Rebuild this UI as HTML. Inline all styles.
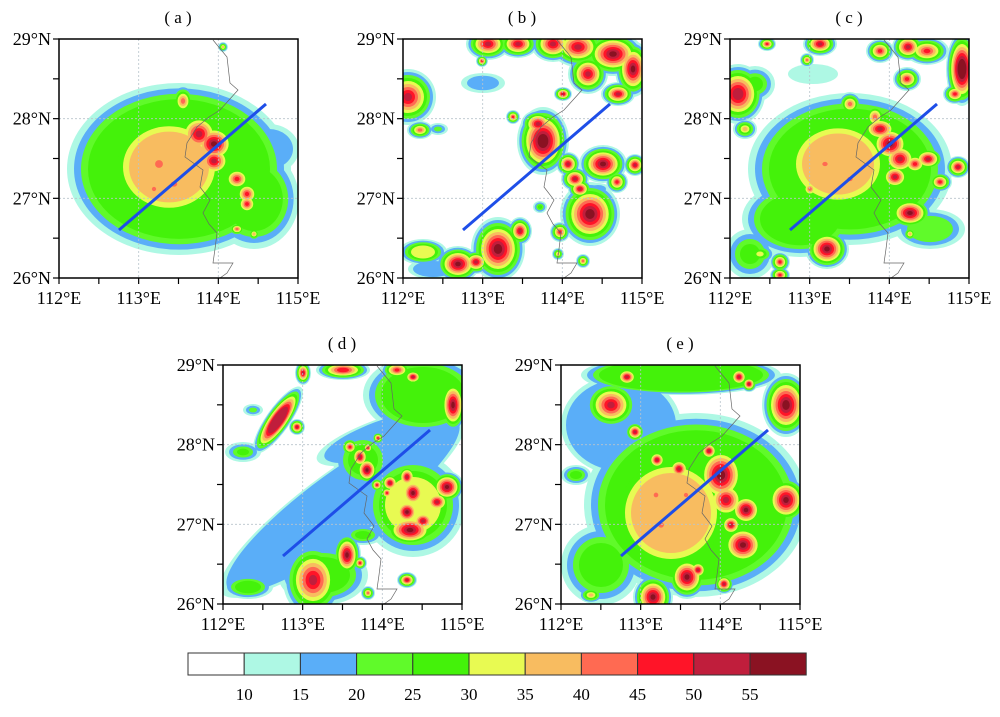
<!DOCTYPE html>
<html><head><meta charset="utf-8">
<style>
html,body{margin:0;padding:0;background:#fff;}
svg text{font-family:"Liberation Serif",serif;}
</style></head>
<body>
<svg id="s" width="1000" height="712" xmlns="http://www.w3.org/2000/svg">
<defs>
<clipPath id="cp"><rect x="0" y="0" width="239" height="239"/></clipPath>
</defs>
<g id="root"></g>
</svg>
<script>
var NS="http://www.w3.org/2000/svg";
var C=["#ffffff","#aef8e4","#5aaef8","#60fa2a","#44f20a","#e8fa52","#f8bc60","#ff6a52","#ff1428","#c01e3c","#8a1222"];
function el(t,a,p){var e=document.createElementNS(NS,t);for(var k in a)e.setAttribute(k,a[k]);if(p)p.appendChild(e);return e;}
var root=document.getElementById("root");
var boundary=[[154,1],[168,18],[171,44],[179,51],[161,71],[150,78],[138,88],[128,104],[126,118],[144,131],[141,148],[151,161],[144,174],[150,185],[158,194],[156,210],[154,224],[174,224],[168,234],[161,239]];
function panel(x0,y0,title,blobs){
  var g=el("g",{transform:"translate("+x0+","+y0+")"},root);
  el("text",{x:119,y:-16,"text-anchor":"middle","font-size":"17"},g).textContent="( "+title+" )";
  var inner=el("g",{"clip-path":"url(#cp)"},g);
  el("rect",{x:0,y:0,width:239,height:239,fill:"#fff"},inner);
  for(var l=1;l<=10;l++){
    blobs.forEach(function(b){
      if(b[4]<l)return;
      var R=Math.max(b[2],b[3]);
      var st=Math.min(b[5]||4, R/(b[4]+0.3));
      var f=(R-(l-1)*st)/R;
      if(f<=0)return;
      var a={cx:b[0],cy:b[1],rx:b[2]*f,ry:b[3]*f,fill:C[l]};
      if(b[6])a.transform="rotate("+b[6]+" "+b[0]+" "+b[1]+")";
      el("ellipse",a,inner);
    });
  }
  [79.7,159.3].forEach(function(v){
    el("line",{x1:v,y1:0,x2:v,y2:239,stroke:"#b8c4cc","stroke-width":0.8,"stroke-dasharray":"2,2"},inner);
    el("line",{x1:0,y1:v,x2:239,y2:v,stroke:"#b8c4cc","stroke-width":0.8,"stroke-dasharray":"2,2"},inner);
  });
  el("polyline",{points:boundary.map(function(p){return p.join(",");}).join(" "),fill:"none",stroke:"#666","stroke-width":0.7},inner);
  el("line",{x1:60,y1:191,x2:207,y2:65,stroke:"#1e4ee8","stroke-width":3},inner);
  el("rect",{x:0,y:0,width:239,height:239,fill:"none",stroke:"#000","stroke-width":1.5},g);
  for(var i=0;i<=6;i++){var v=i*239/6;
    el("line",{x1:-6,y1:v,x2:0,y2:v,stroke:"#000","stroke-width":1.2},g);
    el("line",{x1:v,y1:239,x2:v,y2:245,stroke:"#000","stroke-width":1.2},g);}
  ["29","28","27","26"].forEach(function(t,i){
    el("text",{x:-8,y:i*79.7+6,"text-anchor":"end","font-size":"18"},g).textContent=t+"°N";});
  ["112","113","114","115"].forEach(function(t,i){
    el("text",{x:i*79.7,y:265,"text-anchor":"middle","font-size":"18"},g).textContent=t+"°E";});
}
panel(59,39,"a",[
 [120,130,112,86,4,7],[195,160,45,50,4,6],[40,120,25,40,2,6],[210,110,30,25,2,6],
 [110,128,70,62,6,6],[100,125,22,22,7,4],[115,145,18,15,7,4],[95,150,12,12,7,3],
 [140,95,24,24,9,3],[155,105,24,22,10,3],[155,122,20,18,9,3],[178,140,16,14,8,3],
 [188,155,14,14,8,3],[188,165,12,12,8,3],[124,62,12,16,7,3],[178,190,9,7,7,2],[195,195,7,7,6,2],[164,8,5,5,6,2]
]);
panel(403,39,"b",[
 [5,58,28,28,9,3],[17,91,13,9,7,3],[35,90,10,6,3,3],[80,44,22,10,2,6],
 [85,5,22,16,9,3],[115,5,20,14,9,3],[79,22,6,6,8,2],
 [150,5,22,18,9,3],[175,8,27,20,9,3],[210,15,30,22,10,3],[230,30,18,28,10,3],[185,35,20,20,9,3],[160,55,9,7,9,2],[215,55,17,12,9,3],
 [110,78,7,7,8,2],[140,102,26,34,10,3],[135,85,17,14,9,3],
 [165,125,12,12,9,3],[172,140,14,12,9,3],[200,125,24,19,10,3],[232,126,11,11,9,2],[214,143,11,11,8,2],
 [187,175,30,32,10,3],[177,150,12,10,9,2],[195,150,12,6,2,4],
 [95,210,27,32,10,3],[117,192,12,14,9,3],[55,225,22,18,10,3],[73,223,14,12,9,3],[20,213,24,13,5,3],[30,230,25,10,2,5],
 [157,193,10,10,8,2],[137,168,7,6,4,2],[180,222,7,7,7,2],[155,215,6,6,6,2]
]);
panel(730,39,"c",[
 [120,130,102,76,4,7],[70,180,58,38,4,6],[20,215,25,25,4,5],[200,190,35,20,3,6],
 [108,125,66,56,6,6],[95,125,15,12,7,3],[120,140,15,12,7,3],[80,150,10,10,7,3],
 [150,90,20,14,9,3],[160,105,22,20,10,3],[170,120,20,18,9,3],[165,138,16,14,9,3],[185,125,14,12,8,3],[145,78,12,14,7,3],[120,65,12,12,7,3],
 [198,120,16,12,9,3],[228,128,12,11,9,2],[210,143,12,10,8,2],
 [180,174,22,16,10,3],[97,210,22,20,10,3],[50,223,10,10,8,2],[50,236,10,8,8,2],[30,215,15,10,5,3],
 [8,55,27,30,9,3],[90,5,17,12,9,3],[37,5,9,7,8,2],[77,21,7,7,7,2],[150,12,14,12,8,3],[178,8,16,14,9,3],[197,12,22,14,8,3],
 [232,30,16,37,10,3],[177,40,14,12,8,3],[225,55,12,10,8,2],[83,35,25,10,1,5],[25,45,20,18,4,4],[15,90,12,10,6,3],[180,195,7,7,6,2]
]);
panel(223,365,"d",[
 [120,140,150,36,2,8,-36],[170,70,80,20,2,8,-18],[190,140,52,52,5,6],[140,95,30,30,4,5],
 [184,112,10,12,9,3],[190,128,14,16,10,3],[184,147,14,14,10,3],[187,165,27,17,10,3],[224,122,17,16,10,3],[214,137,14,12,9,3],[200,156,14,12,9,3],
 [167,118,10,10,9,2],[154,120,7,7,8,2],[164,128,7,7,8,2],
 [144,105,12,14,10,3],[137,92,10,12,9,2],[127,82,9,9,8,2],[145,83,6,6,8,2],[155,73,6,6,8,2],
 [100,210,45,30,4,6],[124,190,14,22,10,3],[90,215,30,37,9,4],[137,198,7,7,8,2],[25,222,25,12,4,4],[140,170,20,10,4,4],
 [55,55,40,12,9,3,-55],[30,45,10,6,3,3],[74,62,8,8,9,2],
 [80,8,8,12,9,2],[120,5,27,10,8,3],[174,5,16,10,8,3],[190,12,10,8,9,2],[200,30,60,40,4,6],[230,40,14,27,10,3],
 [20,87,18,10,4,4],[184,215,10,8,9,2],[145,228,7,7,7,2]
]);
panel(561,365,"e",[
 [60,60,60,50,2,5],[135,140,112,92,4,7],[120,10,100,20,4,6],[15,110,15,10,4,3],[40,200,40,40,4,6],
 [110,148,70,70,6,6],[100,160,16,15,7,3],[95,130,13,13,7,3],[125,130,12,12,7,3],
 [160,110,27,32,10,3],[165,135,22,22,9,3],[185,145,18,18,10,3],[225,135,22,24,10,3],[182,180,24,22,10,3],[170,160,12,12,9,3],
 [126,212,20,22,10,3],[92,232,20,22,10,3],[137,205,10,10,9,2],[163,219,10,10,9,2],
 [118,104,12,12,9,2],[96,95,10,10,9,2],[148,86,10,10,9,2],
 [50,40,27,24,9,3],[74,67,10,10,9,2],[66,12,12,10,9,2],[178,12,10,10,9,2],[188,19,8,8,9,2],[225,40,24,32,10,3],[30,230,12,8,6,3]
]);
var cb=el("g",{},root);
for(var i=0;i<11;i++){
  el("rect",{x:188+i*56.2,y:653,width:56.2,height:22,fill:C[i],stroke:"#333","stroke-width":1},cb);
  if(i>=1) el("text",{x:188+i*56.2,y:700,"text-anchor":"middle","font-size":"17"},cb).textContent=String(5+i*5);
}
</script>
</body></html>
